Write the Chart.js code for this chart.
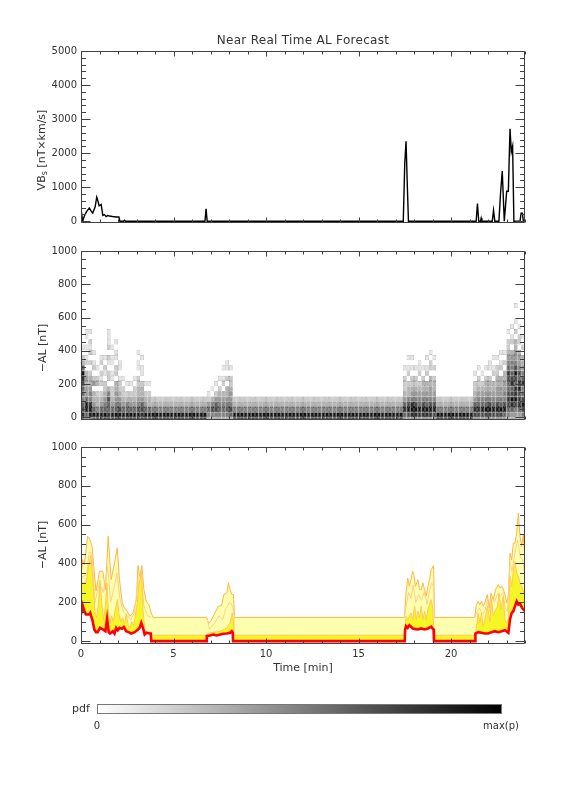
<!DOCTYPE html>
<html><head><meta charset="utf-8">
<script src="https://cdn.jsdelivr.net/npm/chart.js@4.4.0/dist/chart.umd.min.js"></script>
<style>
html,body{margin:0;padding:0;background:#fff;}
#wrap{position:relative;width:576px;height:792px;overflow:hidden;font-family:"DejaVu Sans",sans-serif;color:#333;}
canvas.layer{position:absolute;left:0;top:0;}
.t{position:absolute;white-space:nowrap;transform:translate(-50%,-50%);line-height:1;}
.rot{transform:translate(-50%,-50%) rotate(-90deg);}
.t sub{font-size:8px;vertical-align:-2px;}
#cbar{position:absolute;left:97px;top:704px;width:403px;height:8px;border:1px solid #777;background:linear-gradient(to right,#fff,#000);}
</style></head><body><div id="wrap">
<canvas id="c1" class="layer" width="576" height="792"></canvas>
<canvas id="c2" class="layer" width="576" height="792"></canvas>
<canvas id="c3" class="layer" width="576" height="792"></canvas>
<div class="t" style="left:303px;top:40px;font-size:12px;letter-spacing:0.3px;">Near Real Time AL Forecast</div>
<div class="t rot" style="left:42px;top:150px;font-size:11px;">VB<sub>s</sub> [nT×km/s]</div>
<div class="t rot" style="left:42px;top:348px;font-size:11px;">−AL [nT]</div>
<div class="t rot" style="left:42px;top:545px;font-size:11px;">−AL [nT]</div>
<div class="t" style="left:303px;top:667px;font-size:11px;">Time [min]</div>
<div id="cbar"></div>
<div class="t" style="left:81px;top:708px;font-size:11px;">pdf</div>
<div class="t" style="left:97px;top:726px;font-size:10px;">0</div>
<div class="t" style="left:501px;top:726px;font-size:10px;">max(p)</div>
</div>
<script>
// ---------------- data ----------------
const X_TICKS = [0, 5, 10, 15, 20];
const Y1_TICKS = [0, 1000, 2000, 3000, 4000, 5000];
const Y23_TICKS = [0, 200, 400, 600, 800, 1000];

// Panel 1: VBs [nT x km/s]
const T_V = [0,0.09,0.18,0.3,0.45,0.55,0.63,0.76,0.85,0.9,0.98,1.09,1.18,1.27,1.36,1.45,1.54,1.7,1.9,2.05,2.1,2.3,2.35,2.4,6.7,6.76,6.82,17.42,17.5,17.57,17.63,17.7,21.36,21.43,21.5,21.59,21.63,21.67,22.23,22.3,22.37,22.59,22.68,22.77,22.88,23.01,23.1,23.19,23.26,23.33,23.4,23.73,23.79,23.86,23.91,24];
const VBS = [367,0,154,282,393,300,240,410,709,624,453,496,171,197,137,171,154,140,128,128,0,0,30,0,0,370,0,0,1700,2350,1200,0,0,521,0,0,94,0,0,325,0,0,838,1479,0,880,880,2718,2034,2205,0,0,240,240,0,0];

// Panel 2: pdf heat map, one string per time bin (bottom row first, starting at the -1 bin), digit = grey level 0..9
const HM_T0 = 0, HM_DT = 0.2, HM_DY = 31.25;
const HM_QUIET = "79532";
const HM_COLS = [
 "587656678963201","469964434302101011","599855433202021201","69643304202101","79533203201",
 "7964320212021","7965432201201","786675302201202111","796432201101101","7965443302201101",
 "797543221011","796432201","79653201","79643201","796432201",
 "79754332201101","7876433201101","79643201","79633201",
 "q","q","q","q","q","q","q","q","q","q","q","q","q","q","q",
 "356421","3575301","35764201","356543201","35654302101","356543302011","36754432201",
 "q","q","q","q","q","q","q","q","q","q","q","q","q","q","q","q","q","q","q","q","q","q","q",
 "q","q","q","q","q","q","q","q","q","q","q","q","q","q","q","q","q","q","q","q","q","q","q",
 "46864322201","4797533202101","4898543220101","48975432201","489654320211","48975433201",
 "4896543302101","48975443302201","4797543320201",
 "q","q","q","q","q","q","q","q","q","q",
 "4786432201","47865432201","4796543201","47965433201","479754332011","4796543302101",
 "4797544332201","47965443302101","46975544330201","356787667865432201","3468976876554302101",
 "34579886797544330201001","3468879867544302201","35797658654330201"
];

// Panel 3: forecast quantiles of -AL [nT]
const T_L = [0,0.09,0.18,0.27,0.45,0.5,0.63,0.72,0.81,0.9,1.03,1.18,1.32,1.41,1.5,1.57,1.72,1.81,1.9,1.99,2.08,2.21,2.32,2.44,2.57,2.71,2.9,3.08,3.17,3.26,3.35,3.44,3.53,3.71,3.77,3.8,6.78,6.8,6.97,7.15,7.33,7.52,7.7,7.88,8.06,8.15,8.2,8.22,17.5,17.52,17.57,17.66,17.75,17.84,17.93,18.03,18.21,18.39,18.57,18.75,18.93,19.02,19.06,19.08,21.3,21.32,21.47,21.65,21.83,22.01,22.19,22.37,22.55,22.74,22.92,23.1,23.19,23.28,23.37,23.46,23.55,23.64,23.73,23.84,23.91,24.0];
const AL_LOW = [137,183,154,137,137,145,103,60,46,46,68,60,51,115,46,39,51,39,68,56,68,63,72,51,46,39,46,60,68,94,68,34,43,39,39,0,0,26,29,34,29,34,38,39,43,51,45,0,0,60,77,68,82,74,65,63,60,65,60,65,74,63,60,0,0,39,46,43,39,39,46,51,46,51,56,43,111,145,154,180,205,188,193,171,163,154];
const T_M = [0,0.27,0.4,0.54,0.65,0.75,0.85,0.95,1.03,1.12,1.22,1.32,1.4,1.48,1.57,1.66,1.75,1.85,1.97,2.05,2.15,2.25,2.35,2.45,2.55,2.65,2.75,2.85,2.95,3.05,3.13,3.2,3.27,3.35,3.45,3.6,3.77,3.8,6.78,6.85,7.15,7.52,7.88,8.06,8.17,8.22,8.26,17.48,17.57,17.66,17.75,17.84,17.93,18.03,18.12,18.21,18.3,18.39,18.48,18.57,18.66,18.75,18.84,18.93,19.02,19.08,21.32,21.47,21.56,21.65,21.74,21.83,21.97,22.1,22.19,22.28,22.37,22.52,22.6,22.7,22.82,22.92,23.01,23.1,23.19,23.28,23.37,23.46,23.55,23.64,23.73,23.82,24.0];
const AL_MID = [300,300,380,445,300,150,120,200,315,200,110,180,300,150,90,130,100,160,215,140,100,120,90,140,80,70,100,80,140,200,300,320,360,160,60,45,45,30,30,40,45,51,68,94,145,120,30,30,128,111,128,145,111,180,111,154,120,180,110,154,110,163,190,214,163,30,30,145,94,145,77,111,180,100,214,130,154,180,248,163,231,111,94,111,334,282,368,411,351,334,300,282,231];
const T_Q = [0,0.3,0.45,0.6,0.75,1.0,1.2,1.45,1.6,1.8,1.95,2.1,2.3,2.5,2.7,2.9,3.1,3.25,3.4,3.6,3.8,null,6.8,6.95,7.2,7.45,7.65,7.85,8.05,8.2,8.3,null,17.48,17.57,17.7,17.84,17.95,18.1,18.25,18.4,18.55,18.7,18.85,18.95,19.06,19.11,null,21.28,21.4,21.55,21.7,21.85,21.97,22.1,22.2,22.35,22.5,22.65,22.8,22.92,23.05,23.19,23.3,23.45,23.6,23.75,23.88,24.0];
const AL_Q = [330,340,460,450,200,300,250,380,200,280,350,220,150,130,110,150,330,330,180,130,122,null,122,60,90,130,110,170,200,180,122,null,122,180,250,220,290,200,240,210,250,190,260,300,280,122,null,122,150,170,140,160,210,150,220,200,240,230,250,180,150,400,360,450,520,430,420,330];
const T_H = [0,0.09,0.18,0.36,0.45,0.6,0.69,0.81,1.0,1.18,1.32,1.47,1.63,1.81,1.96,2.08,2.23,2.35,2.5,2.63,2.81,2.99,3.08,3.17,3.29,3.4,3.53,3.67,3.8,3.89,6.79,6.9,7.0,7.15,7.42,7.6,7.72,7.88,7.97,8.06,8.15,8.24,8.3,17.48,17.57,17.66,17.75,17.84,17.93,17.99,18.08,18.21,18.3,18.39,18.48,18.57,18.66,18.75,18.84,18.93,19.06,19.11,21.28,21.37,21.47,21.56,21.65,21.74,21.83,21.96,22.07,22.16,22.28,22.41,22.55,22.64,22.77,22.92,23.01,23.1,23.19,23.28,23.37,23.46,23.55,23.64,23.73,23.82,23.91,24.0];
const AL_HIGH = [330,420,394,540,530,488,385,257,360,360,265,540,317,402,480,317,197,171,154,128,145,214,389,334,389,265,205,188,145,122,122,90,100,128,180,183,240,248,300,265,240,240,122,122,248,325,282,317,360,342,282,317,265,265,300,265,231,282,317,368,389,122,122,188,205,188,205,180,197,240,171,248,214,265,291,274,282,240,197,231,454,420,505,505,556,659,539,488,548,420];

// ---------------- helpers ----------------
const FONT = {family: "'DejaVu Sans', sans-serif", size: 10};
const zip = (t, v) => t.map((x, i) => (x === null ? {x: NaN, y: null} : {x, y: v[i]}));

const idlAxes = {
  id: 'idlAxes',
  afterDraw(chart, args, o) {
    const {ctx, chartArea: a} = chart;
    const x = chart.scales.x, y = chart.scales.y;
    ctx.save();
    ctx.strokeStyle = '#404040';
    ctx.lineWidth = 1;
    ctx.beginPath();
    const L = a.left + 0.5, R = a.right - 0.5, T = a.top + 0.5, B = a.bottom - 0.5;
    ctx.rect(L, T, R - L, B - T);
    for (let v = 0; v <= o.yMax + 1e-6; v += o.yMinor) {
      const major = o.yTicks.includes(v);
      const len = major ? 9 : 4.5;
      const py = Math.round(y.getPixelForValue(v)) + 0.5;
      ctx.moveTo(L, py); ctx.lineTo(L + len, py);
      ctx.moveTo(R, py); ctx.lineTo(R - len, py);
    }
    for (let v = 0; v <= 24 + 1e-6; v += 1) {
      const major = X_TICKS.includes(v);
      const len = major ? 5 : 3;
      const px = Math.round(x.getPixelForValue(v)) + 0.5;
      ctx.moveTo(px, B); ctx.lineTo(px, B - len);
      ctx.moveTo(px, T); ctx.lineTo(px, T + len);
    }
    ctx.stroke();
    ctx.restore();
  }
};

function makeOptions(top, bottom, yMin, yMax, yTicks, yMinor, showX) {
  return {
    responsive: false, animation: false, devicePixelRatio: 1,
    layout: {padding: {left: 0, right: 51, top: top, bottom: showX ? 792 - bottom - 25 : 792 - bottom}},
    plugins: {legend: {display: false}, tooltip: {enabled: false},
      idlAxes: {yMax: yMax, yTicks: yTicks, yMinor: yMinor}},
    elements: {point: {radius: 0}, line: {tension: 0}},
    scales: {
      x: {type: 'linear', min: 0, max: 24, display: showX, offset: false,
        grid: {display: false, drawTicks: false}, border: {display: false},
        ticks: {padding: 4, color: '#333', font: FONT, maxRotation: 0, autoSkip: false, callback: v => String(v)},
        afterBuildTicks: s => { s.ticks = X_TICKS.map(v => ({value: v})); },
        afterFit: s => { s.height = 25; }},
      y: {type: 'linear', min: yMin, max: yMax,
        grid: {display: false, drawTicks: false}, border: {display: false},
        ticks: {padding: 4, color: '#333', font: FONT, callback: v => String(v)},
        afterBuildTicks: s => { s.ticks = yTicks.map(v => ({value: v})); },
        afterFit: s => { s.width = 81; }}
    }
  };
}

// ---------------- panel 1 ----------------
new Chart(document.getElementById('c1'), {
  type: 'line',
  data: {datasets: [{data: zip(T_V, VBS), borderColor: '#000', borderWidth: 1.4, fill: false}]},
  options: makeOptions(51, 248, -50, 5000, Y1_TICKS, 200, false),
  plugins: [idlAxes]
});

// ---------------- panel 2 ----------------
const hmData = [], hmColors = [], hmBorders = [];
HM_COLS.forEach((s, i) => {
  const col = s === 'q' ? HM_QUIET : s;
  for (let k = 0; k < col.length; k++) {
    const lev = +col[k];
    if (!lev) continue;
    const r = k - 1;
    hmData.push({x: HM_T0 + (i + 0.5) * HM_DT, y: [r * HM_DY, (r + 1) * HM_DY]});
    const g = 255 - 26 * lev;
    const b = Math.max(0, g - 45);
    hmColors.push(`rgb(${g},${g},${g})`);
    hmBorders.push(`rgb(${b},${b},${b})`);
  }
});
new Chart(document.getElementById('c2'), {
  type: 'bar',
  data: {datasets: [{data: hmData, backgroundColor: hmColors, borderColor: hmBorders, borderWidth: 0.7,
    borderSkipped: false, inflateAmount: 0, barPercentage: 1, categoryPercentage: 1, grouped: false}]},
  options: makeOptions(251, 445, -16, 1000, Y23_TICKS, 50, false),
  plugins: [idlAxes]
});

// ---------------- panel 3 ----------------
new Chart(document.getElementById('c3'), {
  type: 'line',
  data: {datasets: [
    {data: zip(T_L, AL_LOW), borderColor: '#ff0000', borderWidth: 2.6, fill: 'origin', backgroundColor: '#ffffff'},
    {data: zip(T_M, AL_MID), borderColor: '#ffc860', borderWidth: 1, fill: 'origin', backgroundColor: '#f6f626'},
    {data: zip(T_Q, AL_Q), borderColor: '#ffd08a', borderWidth: 1, fill: false, spanGaps: false},
    {data: zip(T_H, AL_HIGH), borderColor: '#ffb445', borderWidth: 1, fill: 'origin', backgroundColor: '#ffffb0'}
  ]},
  options: makeOptions(447, 644, -15, 1000, Y23_TICKS, 50, true),
  plugins: [idlAxes]
});
</script>
</body></html>
